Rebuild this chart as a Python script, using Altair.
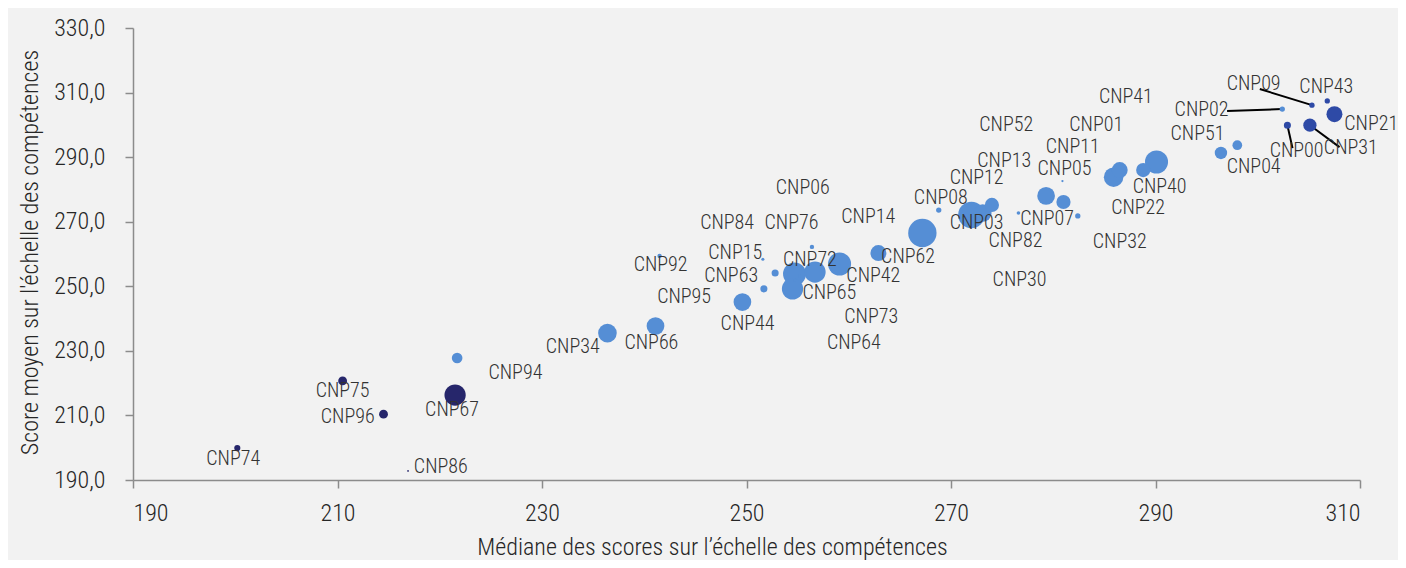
import altair as alt
import pandas as pd

# ---- data ----
names = ["CNP74", "CNP75", "CNP96", "CNP67", "CNP86",
         "CNP94", "CNP34", "CNP66", "CNP92", "CNP95", "CNP44", "CNP63", "CNP15",
         "CNP84", "CNP76", "CNP06", "CNP72", "CNP65", "CNP42", "CNP73", "CNP64",
         "CNP14", "CNP62", "CNP08", "CNP03", "CNP12", "CNP13", "CNP52", "CNP82",
         "CNP30", "CNP07", "CNP05", "CNP11", "CNP01", "CNP32", "CNP22", "CNP40",
         "CNP41", "CNP51", "CNP04", "CNP02",
         "CNP00", "CNP31", "CNP09", "CNP43", "CNP21"]

median = [200.2, 210.5, 214.5, 221.5, 216.9,
          221.7, 236.4, 241.1, 241.5, 251.7, 249.6, 252.8, 251.6,
          254.7, 256.4, 255.2, 256.7, 254.5, 259.1, 254.7, 259.1,
          262.9, 267.2, 268.8, 272.0, 273.1, 274.0, 272.1, 276.6,
          271.7, 281.0, 280.9, 279.3, 288.8, 282.4, 285.9, 290.1,
          286.5, 296.4, 298.0, 302.4,
          302.9, 305.1, 305.3, 306.8, 307.5]

mean = [199.9, 220.7, 210.4, 216.3, 192.8,
        227.8, 235.5, 237.7, 259.4, 249.2, 245.1, 254.1, 258.4,
        251.9, 262.2, 253.2, 254.4, 249.2, 256.9, 253.8, 256.3,
        260.3, 266.5, 273.6, 272.1, 272.7, 275.2, 271.8, 272.7,
        271.8, 276.1, 282.6, 278.0, 286.0, 271.8, 283.8, 288.5,
        286.0, 291.3, 293.7, 304.9,
        299.9, 299.9, 306.1, 307.4, 303.3]

weight = [12, 25, 25, 144, 1,
          36, 110, 100, 6, 16, 100, 16, 3,
          2, 6, 2, 144, 144, 169, 169, 2,
          81, 256, 9, 225, 100, 64, 2, 4,
          2, 64, 1.7, 100, 64, 9, 121, 169,
          81, 49, 30, 9,
          16, 56, 9, 9, 81]

groupe = ["C"] * 5 + ["A"] * 36 + ["B"] * 5

lab_x = [199.8, 210.5, 211.0, 221.2, 220.1,
         227.4, 233.0, 240.7, 241.6, 243.9, 250.1, 248.5, 248.9,
         248.1, 254.4, 255.5, 256.2, 258.1, 262.4, 262.2, 260.5,
         261.9, 265.8, 269.0, 272.5, 272.5, 275.2, 275.4, 276.3,
         276.7, 279.4, 281.1, 281.9, 284.2, 286.5, 288.3, 290.4,
         287.1, 294.1, 299.6, 294.5,
         303.8, 309.1, 299.6, 306.7, 311.1]

lab_y = [196.5, 217.6, 209.5, 211.7, 194.0,
         223.1, 231.2, 232.4, 256.6, 246.7, 238.3, 253.2, 260.3,
         269.6, 269.6, 280.4, 258.1, 247.9, 253.2, 240.5, 232.4,
         271.4, 259.1, 277.3, 269.6, 283.5, 288.8, 299.9, 264.0,
         251.9, 270.8, 286.3, 293.1, 299.9, 263.7, 274.2, 280.7,
         308.6, 297.2, 286.9, 304.6,
         291.9, 292.8, 312.6, 311.7, 300.3]

# leader lines: label side end
leader_names = ["CNP09", "CNP02", "CNP00", "CNP31"]
leader_x2 = [300.2, 297.0, 303.4, 308.0]
leader_y2 = [311.1, 304.3, 292.8, 293.1]

x_ticks = [190, 210, 230, 250, 270, 290, 310]
y_ticks = [190, 210, 230, 250, 270, 290, 310, 330]

df = pd.DataFrame({"name": names, "median": median, "mean": mean,
                   "weight": weight, "groupe": groupe,
                   "lab_x": lab_x, "lab_y": lab_y})
df = df.sort_values("weight", ascending=False, kind="stable")

lead = df.set_index("name").loc[leader_names, ["median", "mean"]].reset_index()
lead["x2"] = leader_x2
lead["y2"] = leader_y2

FONT = "Roboto Condensed, Liberation Sans Narrow, DejaVu Sans Condensed, sans-serif"
TXT = "#262626"
AX = "#8c8c8c"

xscale = alt.Scale(domain=[190, 310], nice=False, zero=False)
yscale = alt.Scale(domain=[190, 330], nice=False, zero=False)

xaxis = alt.Axis(values=x_ticks, format="d", grid=False,
                 title="Médiane des scores sur l’échelle des compétences",
                 domainColor=AX, domainWidth=1.5, tickColor=AX, tickWidth=1.5,
                 tickSize=8, labelFont=FONT, labelFontSize=24, labelColor=TXT,
                 labelFontWeight=300,
                 labelPadding=13, titleFont=FONT, titleFontSize=24,
                 titleFontWeight=300, titleColor=TXT,
                 titleX=579, titleY=74, titleBaseline="alphabetic",
                 titleAlign="center")
yaxis = alt.Axis(values=y_ticks, grid=False,
                 labelExpr="replace(format(datum.value, '.1f'), '.', ',')",
                 title="Score moyen sur l'échelle des compétences",
                 domainColor=AX, domainWidth=1.5, tickColor=AX, tickWidth=1.5,
                 tickSize=8, labelFont=FONT, labelFontSize=24, labelColor=TXT,
                 labelFontWeight=300,
                 labelPadding=20, titleFont=FONT, titleFontSize=24,
                 titleFontWeight=300, titleColor=TXT,
                 titleX=-103, titleY=224, titleBaseline="middle",
                 titleAlign="center", titleAngle=270)

rules = alt.Chart(lead).mark_rule(color="#000000", strokeWidth=2).encode(
    x=alt.X("median:Q", scale=xscale, axis=xaxis),
    y=alt.Y("mean:Q", scale=yscale, axis=yaxis),
    x2="x2:Q", y2="y2:Q")

points = alt.Chart(df).mark_circle(opacity=1, strokeWidth=0).encode(
    x=alt.X("median:Q", scale=xscale, axis=xaxis),
    y=alt.Y("mean:Q", scale=yscale, axis=yaxis),
    size=alt.Size("weight:Q", scale=alt.Scale(type="linear", domain=[0, 256],
                                              range=[0, 804]), legend=None),
    color=alt.Color("groupe:N", scale=alt.Scale(domain=["A", "B", "C"],
                    range=["#558ed5", "#2e4aa6", "#26266b"]), legend=None))

labels = alt.Chart(df).mark_text(font=FONT, fontSize=20, fontWeight=300,
                                 color="#333333",
                                 align="center", baseline="middle").encode(
    x=alt.X("lab_x:Q", scale=xscale, axis=xaxis),
    y=alt.Y("lab_y:Q", scale=yscale, axis=yaxis),
    text="name:N")

chart = alt.layer(rules, points, labels).properties(
    width=1227, height=452,
    autosize=alt.AutoSizeParams(type="none"),
    padding={"left": 125, "top": 20, "right": 38, "bottom": 80},
    background="#f2f2f2",
).configure_view(stroke=None)

chart.save("out.html", embed_options={"renderer": "svg", "actions": False})
